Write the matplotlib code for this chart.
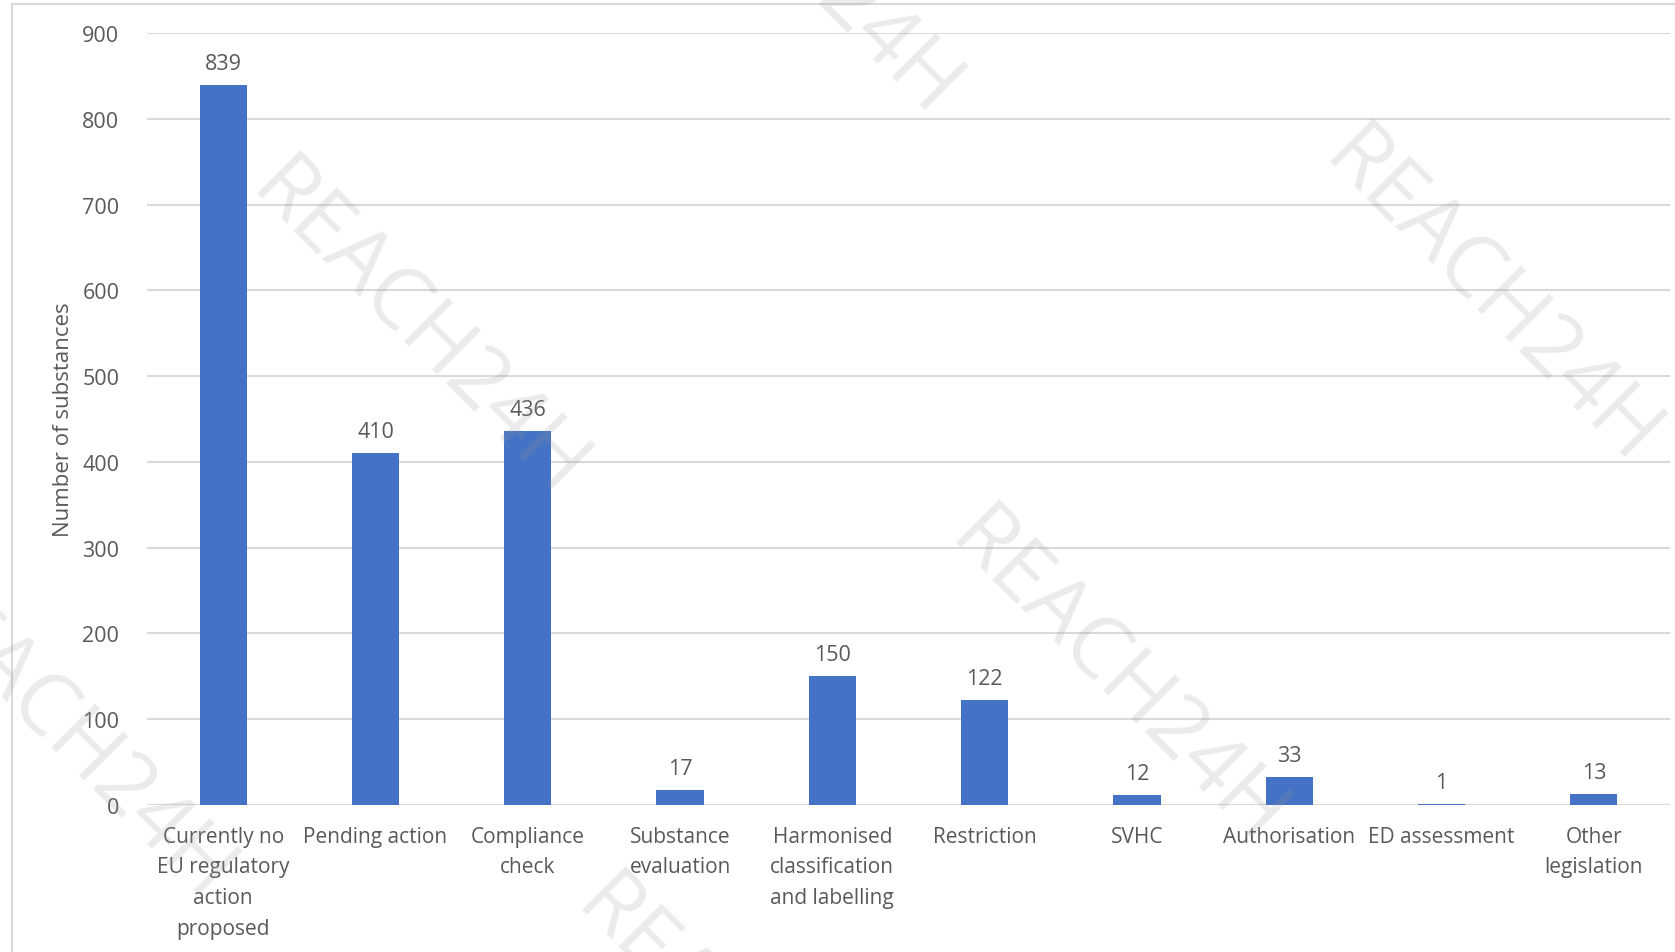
import numpy as np
import matplotlib
matplotlib.use("Agg")
from matplotlib import pyplot as plt
from matplotlib.patches import Rectangle

categories = ["Currently no\nEU regulatory\naction\nproposed", "Pending action",
              "Compliance\ncheck", "Substance\nevaluation",
              "Harmonised\nclassification\nand labelling", "Restriction", "SVHC",
              "Authorisation", "ED assessment", "Other\nlegislation"]
values = [839, 410, 436, 17, 150, 122, 12, 33, 1, 13]
yticks = [0, 100, 200, 300, 400, 500, 600, 700, 800, 900]

bar_color = "#4472C4"
text_color = "#595959"
grid_color = "#D9D9D9"

plt.rcParams["font.family"] = ["Open Sans", "DejaVu Sans"]

fig = plt.figure(figsize=(16.75, 9.53), dpi=100)
ax = fig.add_axes([0.0878, 0.1543, 0.9092, 0.81])

x = np.arange(len(categories))
bars = ax.bar(x, values, width=0.31, color=bar_color, zorder=3)

for xi, v in zip(x, values):
    ax.annotate(str(v), (xi, v), xytext=(0, 8), textcoords="offset points",
                ha="center", va="bottom", fontsize=15.5, color=text_color)

ax.set_xlim(-0.5, len(categories) - 0.5)
ax.set_ylim(0, 900)
ax.set_yticks(yticks)
ax.set_xticks(x)
ax.set_xticklabels(categories, fontsize=15, color=text_color, linespacing=1.6)
ax.tick_params(axis="y", labelsize=15.5, labelcolor=text_color, length=0, pad=20)
ax.tick_params(axis="x", length=0, pad=15)
ax.yaxis.grid(True, color=grid_color, linewidth=1.5, zorder=0)
for s in ax.spines.values():
    s.set_visible(False)
ax.axhline(0, color=grid_color, linewidth=1.5, zorder=2)

ax.set_ylabel("Number of substances", fontsize=16, color=text_color, labelpad=6)

# outer chart border (cropped at right and bottom)
fig.patches.append(Rectangle((12 / 1675, -0.1), 1.2, 1 - 5 / 953 + 0.1,
                             transform=fig.transFigure, fill=False,
                             edgecolor=grid_color, linewidth=1.5))

# watermarks
marks = [(417, 331), (1490, 299), (1116, 680), (790, -48), (64, 737), (742, 1047)]
for px, py in marks:
    fig.text(px / 1675, 1 - py / 953, "REACH24H", rotation=-45, fontsize=62,
             color="#9a9a9a", alpha=0.2, ha="center", va="center",
             rotation_mode="anchor", zorder=10)

fig.savefig("out.png", dpi=100)
